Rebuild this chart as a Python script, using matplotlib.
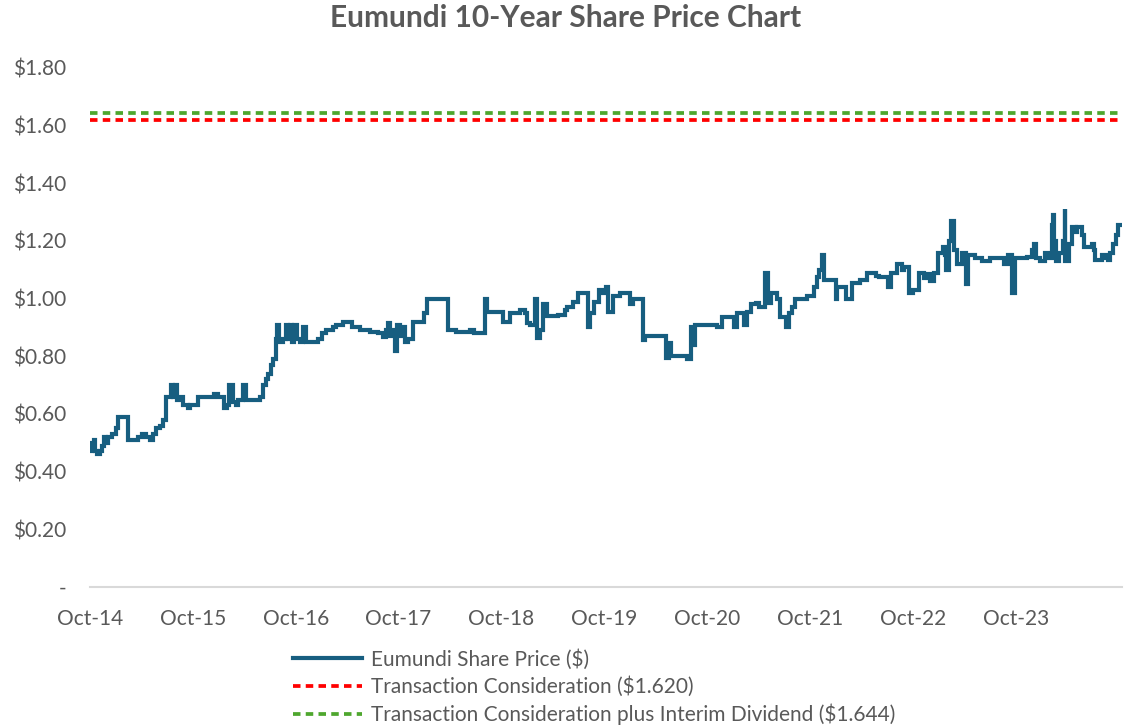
import matplotlib
matplotlib.use("Agg")
import matplotlib.pyplot as plt
from matplotlib.ticker import FuncFormatter, FixedLocator

# months since Oct-2014 and share price ($), step changes
months = [0.0, 0.2, 0.5, 0.6, 0.8, 1.2, 1.4, 1.6, 1.9, 2.1, 2.6, 3.0, 3.3, 4.4, 5.6, 6.1,
          6.5, 7.0, 7.4, 7.7, 8.2, 8.5, 8.9, 9.5, 9.7, 9.9, 10.2, 10.5, 10.9, 11.4, 11.7,
          12.6, 14.5, 14.9, 15.6, 16.0, 16.2, 16.7, 17.0, 17.3, 17.8, 18.2, 19.8, 20.2,
          20.5, 20.8, 21.1, 21.3, 21.7, 21.8, 22.0, 22.5, 22.9, 23.1, 23.3, 23.6, 23.8,
          24.1, 24.5, 24.8, 25.2, 26.6, 27.1, 27.5, 28.3, 28.7, 29.5, 30.6, 31.5, 32.7,
          33.6, 34.2, 34.5, 34.8, 35.0, 35.3, 35.6, 35.8, 36.2, 36.4, 36.7, 37.1, 37.7,
          39.0, 39.3, 41.8, 42.7, 44.3, 44.8, 46.1, 46.3, 48.2, 49.0, 50.2, 50.7, 51.0,
          51.3, 51.9, 52.1, 52.5, 52.8, 53.3, 54.6, 55.4, 55.7, 56.3, 56.9, 58.1, 58.3,
          58.8, 59.4, 59.8, 60.2, 60.4, 61.0, 61.8, 63.0, 63.4, 64.5, 64.7, 67.2, 67.5,
          67.8, 69.7, 70.1, 70.3, 70.6, 73.2, 73.7, 75.1, 75.5, 76.3, 76.6, 77.1, 77.7,
          78.1, 78.8, 79.1, 79.5, 80.2, 80.5, 81.2, 81.5, 81.9, 82.3, 83.7, 84.5, 84.8,
          85.1, 85.4, 85.6, 87.0, 87.2, 88.2, 88.9, 89.8, 90.7, 91.7, 92.1, 93.1, 93.5,
          94.1, 94.7, 95.0, 95.6, 96.0, 96.7, 97.3, 97.7, 98.0, 98.5, 98.9, 99.5, 99.7,
          99.9, 100.2, 100.4, 100.8, 101.2, 101.7, 102.2, 102.4, 103.3, 104.1, 105.0,
          106.1, 106.6, 107.1, 107.6, 107.9, 109.3, 109.9, 110.1, 110.4, 110.8, 111.4,
          111.8, 112.2, 112.4, 112.5, 112.7, 113.1, 113.5, 113.7, 113.8, 114.2, 114.6,
          115.0, 115.2, 115.7, 116.0, 116.9, 117.1, 117.2, 117.8, 118.1, 118.5, 118.8,
          119.0, 119.3, 119.7, 119.9, 120.3]
prices = [0.47, 0.50, 0.51, 0.47, 0.46, 0.47, 0.49, 0.52, 0.50, 0.52, 0.53, 0.55, 0.59, 0.51,
          0.52, 0.53, 0.52, 0.51, 0.53, 0.55, 0.56, 0.58, 0.66, 0.70, 0.66, 0.70, 0.65, 0.66,
          0.63, 0.62, 0.63, 0.66, 0.67, 0.66, 0.62, 0.63, 0.70, 0.64, 0.63, 0.65, 0.70, 0.65,
          0.66, 0.70, 0.72, 0.74, 0.77, 0.79, 0.86, 0.91, 0.85, 0.86, 0.91, 0.86, 0.91, 0.85,
          0.91, 0.86, 0.85, 0.90, 0.85, 0.86, 0.88, 0.89, 0.90, 0.91, 0.92, 0.90, 0.89, 0.885,
          0.88, 0.867, 0.89, 0.915, 0.87, 0.89, 0.82, 0.91, 0.87, 0.90, 0.85, 0.86, 0.92,
          0.95, 1.00, 0.89, 0.885, 0.89, 0.88, 1.00, 0.955, 0.92, 0.95, 0.96, 0.95, 0.915,
          0.91, 1.00, 0.865, 0.89, 0.98, 0.94, 0.945, 0.96, 0.97, 0.99, 1.02, 0.90, 0.95,
          0.99, 1.03, 1.02, 1.04, 0.955, 1.01, 1.02, 0.98, 1.00, 0.857, 0.87, 0.795, 0.846,
          0.80, 0.79, 0.90, 0.84, 0.91, 0.90, 0.935, 0.90, 0.95, 0.91, 0.955, 0.98, 0.985,
          0.97, 1.09, 0.985, 1.02, 1.00, 0.935, 0.90, 0.95, 0.97, 1.00, 1.01, 1.04, 1.075,
          1.10, 1.15, 1.065, 1.00, 1.04, 1.00, 1.055, 1.065, 1.09, 1.08, 1.075, 1.04, 1.09,
          1.12, 1.10, 1.11, 1.02, 1.03, 1.09, 1.07, 1.085, 1.06, 1.09, 1.16, 1.18, 1.15,
          1.10, 1.20, 1.27, 1.17, 1.12, 1.16, 1.05, 1.15, 1.14, 1.13, 1.14, 1.14, 1.12,
          1.15, 1.02, 1.14, 1.145, 1.17, 1.19, 1.14, 1.13, 1.16, 1.14, 1.255, 1.29, 1.20,
          1.13, 1.16, 1.20, 1.31, 1.13, 1.19, 1.25, 1.23, 1.25, 1.22, 1.18, 1.19, 1.17,
          1.135, 1.135, 1.15, 1.14, 1.135, 1.16, 1.19, 1.22, 1.255, 1.255]

consideration = 1.620
consideration_plus_div = 1.644

tick_months = [0, 12, 24, 36, 48, 60, 72, 84, 96, 108]
tick_labels = ["Oct-14", "Oct-15", "Oct-16", "Oct-17", "Oct-18", "Oct-19",
               "Oct-20", "Oct-21", "Oct-22", "Oct-23"]
y_ticks = [0.0, 0.2, 0.4, 0.6, 0.8, 1.0, 1.2, 1.4, 1.6, 1.8]

plt.rcParams['font.family'] = ['Lato', 'DejaVu Sans']
GREY = '#595959'

fig = plt.figure(figsize=(11.32, 7.27), dpi=100)
ax = fig.add_axes([90/1132, 1 - 587/727, (1122 - 90)/1132, (587 - 68)/727])

ax.plot(months, prices, drawstyle='steps-post', color='#175E80', lw=3.0,
        solid_joinstyle='miter', label='Eumundi Share Price ($)', zorder=3)
ax.axhline(consideration, color='#FF0000', lw=2.7, ls=(0, (2.0, 1.4)),
           label='Transaction Consideration ($1.620)')
ax.axhline(consideration_plus_div, color='#4EA72E', lw=2.7, ls=(0, (2.0, 1.4)),
           label='Transaction Consideration plus Interim Dividend ($1.644)')

ax.set_xlim(0, 120.4)
ax.set_ylim(0, 1.8)
ax.yaxis.set_major_locator(FixedLocator(y_ticks))
ax.yaxis.set_major_formatter(FuncFormatter(lambda v, p: '-' if abs(v) < 1e-9 else f'${v:.2f}'))
ax.set_xticks(tick_months)
ax.set_xticklabels(tick_labels)
ax.tick_params(axis='both', length=0, colors=GREY, labelsize=15)
ax.tick_params(axis='y', pad=17)
ax.tick_params(axis='x', pad=16)
for s in ['top', 'right', 'left']:
    ax.spines[s].set_visible(False)
ax.spines['bottom'].set_color('#D9D9D9')
ax.spines['bottom'].set_linewidth(1.5)

fig.suptitle('Eumundi 10-Year Share Price Chart', y=1 - 18/727, va='center',
             fontsize=21.5, fontweight='bold', color=GREY)

leg = fig.legend(loc='upper left', bbox_to_anchor=(293/1132, 1 - 649/727), frameon=False,
                 fontsize=15, handlelength=3.3, handletextpad=0.45, labelspacing=0.32,
                 borderaxespad=0, borderpad=0)
for t in leg.get_texts():
    t.set_color(GREY)

fig.savefig('out.png', dpi=100)
